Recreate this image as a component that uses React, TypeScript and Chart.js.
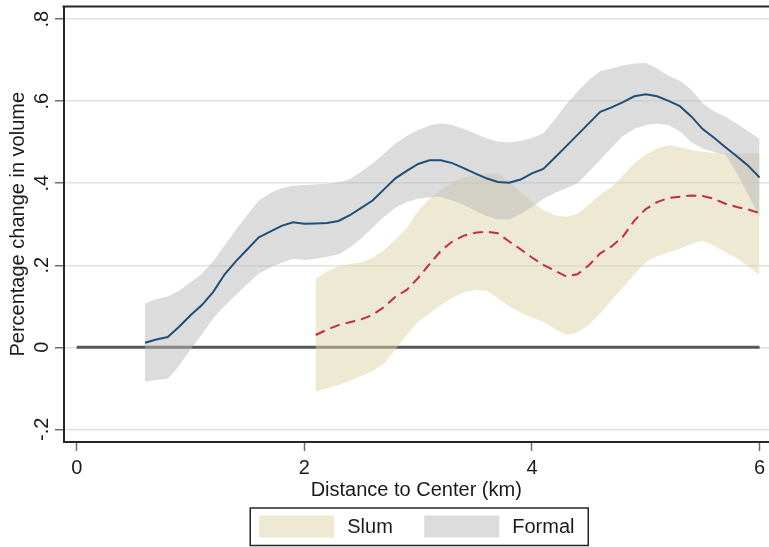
import React, { useEffect, useRef } from "react";
import { Chart, registerables } from "chart.js";

Chart.register(...registerables);

const FONT = "'Liberation Sans', Arial, Helvetica, sans-serif";

// ---- data ----
const formalX = [
  0.6, 0.7, 0.8, 0.9, 1.0, 1.1, 1.2, 1.3, 1.4, 1.5, 1.6, 1.7, 1.8, 1.9, 2.0,
  2.1, 2.2, 2.3, 2.4, 2.5, 2.6, 2.7, 2.8, 2.9, 3.0, 3.1, 3.2, 3.3, 3.4, 3.5,
  3.6, 3.7, 3.8, 3.9, 4.0, 4.1, 4.2, 4.3, 4.4, 4.5, 4.6, 4.7, 4.8, 4.9, 5.0,
  5.1, 5.2, 5.3, 5.4, 5.5, 5.6, 5.7, 5.8, 5.9, 6.0,
];
const formalMean = [
  0.011, 0.019, 0.025, 0.05, 0.078, 0.103, 0.135, 0.178, 0.21, 0.239, 0.268, 0.282, 0.296, 0.305, 0.301,
  0.302, 0.303, 0.308, 0.322, 0.34, 0.358, 0.385, 0.412, 0.43, 0.447, 0.456, 0.456, 0.449, 0.437, 0.424,
  0.412, 0.403, 0.401, 0.409, 0.424, 0.435, 0.462, 0.49, 0.518, 0.546, 0.574, 0.585, 0.598, 0.612, 0.617,
  0.612, 0.601, 0.588, 0.563, 0.532, 0.511, 0.488, 0.466, 0.443, 0.414,
];
const formalUpper = [
  0.107, 0.118, 0.124, 0.138, 0.158, 0.18, 0.21, 0.249, 0.287, 0.323, 0.358, 0.376, 0.388, 0.394, 0.396,
  0.397, 0.399, 0.402, 0.41, 0.428, 0.448, 0.472, 0.497, 0.515, 0.53, 0.541, 0.546, 0.542, 0.532, 0.521,
  0.51, 0.501, 0.5, 0.503, 0.51, 0.522, 0.555, 0.592, 0.623, 0.652, 0.673, 0.68, 0.687, 0.692, 0.693,
  0.68, 0.662, 0.65, 0.628, 0.595, 0.575, 0.562, 0.545, 0.527, 0.508,
];
const formalLower = [
  -0.084, -0.08, -0.077, -0.045, -0.005, 0.032, 0.071, 0.101, 0.128, 0.154, 0.18, 0.194, 0.206, 0.216, 0.213,
  0.216, 0.221, 0.226, 0.243, 0.265, 0.292, 0.318, 0.34, 0.354, 0.362, 0.366, 0.367, 0.358, 0.347, 0.333,
  0.32, 0.312, 0.312, 0.325, 0.342, 0.362, 0.376, 0.388, 0.4, 0.428, 0.457, 0.487, 0.515, 0.533, 0.542,
  0.545, 0.542, 0.527, 0.5, 0.485, 0.476, 0.47, 0.425, 0.372, 0.318,
];

const slumX = [
  2.1, 2.2, 2.3, 2.4, 2.5, 2.6, 2.7, 2.8, 2.9, 3.0, 3.1, 3.2, 3.3, 3.4, 3.5,
  3.6, 3.7, 3.8, 3.9, 4.0, 4.1, 4.2, 4.3, 4.4, 4.5, 4.6, 4.7, 4.8, 4.9, 5.0,
  5.1, 5.2, 5.3, 5.4, 5.5, 5.6, 5.7, 5.8, 5.9, 6.0,
];
const slumMean = [
  0.03, 0.043, 0.054, 0.061, 0.068, 0.079, 0.098, 0.123, 0.14, 0.169, 0.203, 0.235, 0.258, 0.272, 0.279,
  0.282, 0.278, 0.258, 0.239, 0.219, 0.201, 0.187, 0.173, 0.178, 0.2, 0.229, 0.246, 0.27, 0.309, 0.337,
  0.354, 0.364, 0.367, 0.37, 0.369, 0.362, 0.35, 0.342, 0.336, 0.327,
];
const slumUpper = [
  0.168, 0.185, 0.197, 0.203, 0.207, 0.218, 0.237, 0.262, 0.29, 0.332, 0.362, 0.384, 0.402, 0.414, 0.42,
  0.422, 0.424, 0.405, 0.378, 0.355, 0.335, 0.322, 0.318, 0.325, 0.348, 0.372, 0.39, 0.418, 0.448, 0.47,
  0.485, 0.493, 0.488, 0.481, 0.477, 0.474, 0.473, 0.473, 0.473, 0.473,
];
const slumLower = [
  -0.108, -0.1, -0.092, -0.082, -0.07, -0.058, -0.04, -0.005, 0.03, 0.062, 0.083, 0.103, 0.12, 0.134, 0.14,
  0.138, 0.12, 0.1, 0.085, 0.072, 0.062, 0.045, 0.03, 0.036, 0.055, 0.083, 0.115, 0.145, 0.178, 0.208,
  0.222, 0.232, 0.24, 0.252, 0.26, 0.248, 0.232, 0.217, 0.197, 0.176,
];

const zeroLineX = [0, 6];
const zeroLineY = [0, 0];

const xTickValues = [0, 2, 4, 6];
const xTickLabels = ["0", "2", "4", "6"];
const yTickValues = [-0.2, 0, 0.2, 0.4, 0.6, 0.8];
const yTickLabels = ["-.2", "0", ".2", ".4", ".6", ".8"];
const legendLabels = ["Slum", "Formal"];

const X_MIN = -0.116;
const X_MAX = 6.083;
const Y_MIN = -0.231;
const Y_MAX = 0.831;

// ---- styles ----
const TEXT = "#1a1a1a";
const AXIS = "#262626";
const GRID = "#e2e2e2";
const TICK = "#6e6e6e";
const BLUE = "#1f4e79";
const RED = "#c52a48";
const ZERO = "#575757";
const SLUM_FILL = "rgba(221,211,167,0.5)";
const FORMAL_FILL = "rgba(185,185,185,0.5)";
const SLUM_SWATCH = "rgb(238,233,211)";
const FORMAL_SWATCH = "rgb(220,220,220)";

const pts = (xs: number[], ys: number[]) => xs.map((x, i) => ({ x, y: ys[i] }));

const frameTopPlugin = {
  id: "frameTop",
  afterDatasetsDraw(chart: any) {
    const { ctx, chartArea } = chart;
    ctx.save();
    ctx.strokeStyle = AXIS;
    ctx.lineWidth = 2;
    ctx.beginPath();
    ctx.moveTo(chartArea.left - 1, chartArea.top);
    ctx.lineTo(chartArea.right, chartArea.top);
    ctx.stroke();
    ctx.restore();
  },
};

const boxLegendPlugin = {
  id: "boxLegend",
  afterDraw(chart: any) {
    const { ctx, chartArea } = chart;
    const boxW = 338;
    const boxH = 37.5;
    const cx = (chartArea.left + chartArea.right) / 2 + 3;
    const left = cx - boxW / 2;
    const top = chart.height - 39;
    ctx.save();
    ctx.strokeStyle = AXIS;
    ctx.lineWidth = 1.5;
    ctx.strokeRect(left, top, boxW, boxH);
    const swatches = [SLUM_SWATCH, FORMAL_SWATCH];
    ctx.font = `20px ${FONT}`;
    ctx.textBaseline = "middle";
    ctx.textAlign = "left";
    legendLabels.forEach((lab, i) => {
      const sx = left + 9 + i * 165;
      ctx.fillStyle = swatches[i];
      ctx.fillRect(sx, top + 7.5, 75, 22);
      ctx.fillStyle = TEXT;
      ctx.fillText(lab, sx + 88, top + 19);
    });
    ctx.restore();
  },
};

export default function App() {
  const canvasRef = useRef<HTMLCanvasElement | null>(null);

  useEffect(() => {
    document.body.style.margin = "0";
    const canvas = canvasRef.current;
    if (!canvas) return;
    Chart.defaults.font.family = FONT;

    const lineBase = { pointRadius: 0, pointHoverRadius: 0, tension: 0 };

    const chart = new Chart(canvas, {
      type: "line",
      data: {
        datasets: [
          { ...lineBase, label: "zero", data: pts(zeroLineX, zeroLineY), borderColor: ZERO, borderWidth: 3, fill: false, order: 10 },
          { ...lineBase, label: "Slum upper", data: pts(slumX, slumUpper), borderColor: "transparent", borderWidth: 0, backgroundColor: SLUM_FILL, fill: "+1", order: 9 },
          { ...lineBase, label: "Slum lower", data: pts(slumX, slumLower), borderColor: "transparent", borderWidth: 0, fill: false, order: 9 },
          { ...lineBase, label: "Formal upper", data: pts(formalX, formalUpper), borderColor: "transparent", borderWidth: 0, backgroundColor: FORMAL_FILL, fill: "+1", order: 8 },
          { ...lineBase, label: "Formal lower", data: pts(formalX, formalLower), borderColor: "transparent", borderWidth: 0, fill: false, order: 8 },
          { ...lineBase, label: "Formal", data: pts(formalX, formalMean), borderColor: BLUE, borderWidth: 2, fill: false, order: 2 },
          { ...lineBase, label: "Slum", data: pts(slumX, slumMean), borderColor: RED, borderWidth: 2, borderDash: [10, 6], fill: false, order: 1 },
        ],
      },
      options: {
        responsive: false,
        animation: false,
        devicePixelRatio: 1,
        layout: { padding: { top: 6.5, left: 0, right: 0, bottom: 45 } },
        plugins: {
          legend: { display: false },
          tooltip: { enabled: false },
        },
        scales: {
          x: {
            type: "linear",
            min: X_MIN,
            max: X_MAX,
            afterBuildTicks: (s: any) => {
              s.ticks = xTickValues.map((v) => ({ value: v }));
            },
            afterFit: (s: any) => {
              s.height = 60;
              s.paddingLeft = 0;
              s.paddingRight = 0;
            },
            ticks: {
              autoSkip: false,
              minRotation: 0,
              maxRotation: 0,
              padding: 5,
              color: TEXT,
              font: { family: FONT, size: 20 },
              callback: (_v: any, i: number) => xTickLabels[i],
            },
            grid: { drawOnChartArea: false, drawTicks: true, tickLength: 9, tickColor: TICK, tickWidth: 1.5 },
            border: { display: true, color: AXIS, width: 2 },
            title: {
              display: true,
              text: "Distance to Center (km)",
              color: TEXT,
              font: { family: FONT, size: 20, lineHeight: 1.2 },
              padding: { top: 0, bottom: 0 },
            },
          },
          y: {
            type: "linear",
            min: Y_MIN,
            max: Y_MAX,
            afterBuildTicks: (s: any) => {
              s.ticks = yTickValues.map((v) => ({ value: v }));
            },
            afterFit: (s: any) => {
              s.width = 63.5;
              s.paddingTop = 0;
              s.paddingBottom = 0;
            },
            ticks: {
              autoSkip: false,
              minRotation: 90,
              maxRotation: 90,
              crossAlign: "center",
              padding: 1,
              color: TEXT,
              font: { family: FONT, size: 20 },
              callback: (_v: any, i: number) => yTickLabels[i],
            },
            grid: { color: GRID, lineWidth: 1.5, drawTicks: true, tickLength: 8.5, tickColor: TICK, tickWidth: 1.5 },
            border: { display: true, color: AXIS, width: 2 },
            title: {
              display: true,
              text: "Percentage change in volume",
              color: TEXT,
              font: { family: FONT, size: 20, lineHeight: 1.2 },
              padding: { top: 6.5, bottom: 0 },
            },
          },
        },
      },
      plugins: [frameTopPlugin, boxLegendPlugin],
    } as any);

    return () => chart.destroy();
  }, []);

  return (
    <canvas
      ref={canvasRef}
      width={769}
      height={547}
      style={{ display: "block", width: "769px", height: "547px" }}
    />
  );
}
